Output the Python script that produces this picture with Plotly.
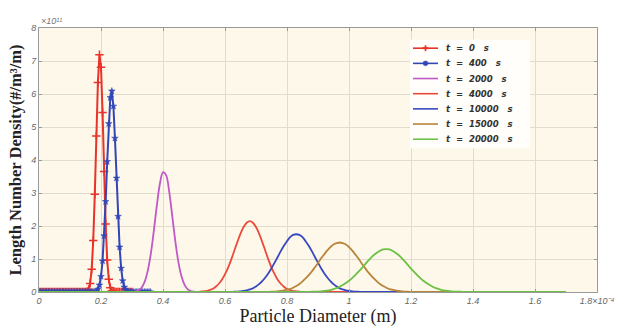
import numpy as np
import plotly.graph_objects as go

# ---- data (x in units of 1e-4 m, y in units of 1e11) ----
labels = ["t\u00a0\u00a0=\u00a0\u00a00\u00a0\u00a0\u00a0s",
          "t\u00a0\u00a0=\u00a0\u00a0400\u00a0\u00a0\u00a0s",
          "t\u00a0\u00a0=\u00a0\u00a02000\u00a0\u00a0\u00a0s",
          "t\u00a0\u00a0=\u00a0\u00a04000\u00a0\u00a0\u00a0s",
          "t\u00a0\u00a0=\u00a0\u00a010000\u00a0\u00a0\u00a0s",
          "t\u00a0\u00a0=\u00a0\u00a015000\u00a0\u00a0\u00a0s",
          "t\u00a0\u00a0=\u00a0\u00a020000\u00a0\u00a0\u00a0s"]
colors = ["#e8322a", "#3346b8", "#c058c8", "#ea4a3a", "#3a48c0", "#b8843a", "#6cc042"]

# t = 0 s : step 0.005, from 0 to 0.30
x_t0 = np.round(np.arange(0, 0.3001, 0.005), 3)
y_t0 = ([0.0] * 30 +
        [0.005, 0.02, 0.08, 0.26, 0.69, 1.56, 2.96, 4.73, 6.35, 7.19,
         6.81, 5.44, 3.65, 2.06, 0.97, 0.39, 0.13, 0.04, 0.01, 0.0] +
        [0.0] * 11)

# t = 400 s : step 0.005, from 0 to 0.36
x_t400 = np.round(np.arange(0, 0.3601, 0.005), 3)
y_t400 = ([0.0] * 37 +
          [0.03, 0.08, 0.21, 0.47, 0.94, 1.70, 2.74, 3.95, 5.10, 5.89, 6.09,
           5.63, 4.66, 3.45, 2.29, 1.36, 0.72, 0.34, 0.15, 0.06, 0.02] +
          [0.0] * 15)

# t = 2000 s : step 0.01, from 0 to 0.60
x_t2000 = np.round(np.arange(0, 0.6001, 0.01), 3)
y_t2000 = ([0.0] * 31 +
           [0.01, 0.05, 0.12, 0.29, 0.61, 1.12, 1.82, 2.61, 3.28, 3.63,
            3.54, 3.04, 2.29, 1.52, 0.89, 0.46, 0.21, 0.08, 0.03, 0.01] +
           [0.0] * 10)

# t = 4000 s : step 0.01, from 0 to 1.04
x_t4000 = np.round(np.arange(0, 1.0401, 0.01), 3)
y_t4000 = ([0.0] * 52 +
           [0.01, 0.02, 0.03, 0.06, 0.09, 0.16, 0.25, 0.37, 0.54, 0.74, 0.98,
            1.25, 1.52, 1.77, 1.97, 2.10, 2.15, 2.10, 1.97, 1.77, 1.52, 1.25,
            0.98, 0.74, 0.54, 0.37, 0.25, 0.16, 0.09, 0.06, 0.03, 0.02, 0.01] +
           [0.0] * 20)

# t = 10000 s : step 0.01, from 0 to 1.26
x_t10000 = np.round(np.arange(0, 1.2601, 0.01), 3)
y_t10000 = ([0.0] * 63 +
            [0.01, 0.01, 0.02, 0.03, 0.05, 0.08, 0.11, 0.17, 0.24, 0.33, 0.44,
             0.57, 0.72, 0.89, 1.06, 1.24, 1.40, 1.54, 1.66, 1.73, 1.75,
             1.73, 1.66, 1.54, 1.40, 1.24, 1.06, 0.89, 0.72, 0.57, 0.44,
             0.33, 0.24, 0.17, 0.11, 0.08, 0.05, 0.03, 0.02, 0.01, 0.01] +
            [0.0] * 23)

# t = 15000 s : step 0.01, from 0 to 1.36
x_t15000 = np.round(np.arange(0, 1.3601, 0.01), 3)
y_t15000 = ([0.0] * 75 +
            [0.01, 0.01, 0.02, 0.03, 0.05, 0.07, 0.09, 0.13, 0.18, 0.24, 0.32,
             0.41, 0.51, 0.62, 0.75, 0.88, 1.02, 1.14, 1.26, 1.36, 1.44, 1.48,
             1.50,
             1.48, 1.44, 1.36, 1.26, 1.14, 1.02, 0.88, 0.75, 0.62, 0.51, 0.41,
             0.32, 0.24, 0.18, 0.13, 0.09, 0.07, 0.05, 0.03, 0.02, 0.01, 0.01] +
            [0.0] * 17)

# t = 20000 s : step 0.01, from 0 to 1.70
x_t20000 = np.round(np.arange(0, 1.7001, 0.01), 3)
y_t20000 = ([0.0] * 88 +
            [0.01, 0.01, 0.01, 0.02, 0.03, 0.04, 0.06, 0.09, 0.12, 0.16, 0.21,
             0.27, 0.34, 0.42, 0.51, 0.61, 0.71, 0.82, 0.93, 1.03, 1.12, 1.19,
             1.25, 1.29, 1.30,
             1.29, 1.25, 1.19, 1.12, 1.03, 0.93, 0.82, 0.71, 0.61, 0.51, 0.42,
             0.34, 0.27, 0.21, 0.16, 0.12, 0.09, 0.06, 0.04, 0.03, 0.02, 0.01,
             0.01, 0.01] +
            [0.0] * 34)

x_ticks = [0, 0.2, 0.4, 0.6, 0.8, 1.0, 1.2, 1.4, 1.6, 1.8]
x_ticktext = ["0", "0.2", "0.4", "0.6", "0.8", "1", "1.2", "1.4", "1.6", "1.8×10⁻⁴"]
y_ticks = [0, 1, 2, 3, 4, 5, 6, 7, 8]

series = [(x_t0, y_t0), (x_t400, y_t400), (x_t2000, y_t2000), (x_t4000, y_t4000),
          (x_t10000, y_t10000), (x_t15000, y_t15000), (x_t20000, y_t20000)]

# ---- layout geometry ----
W, H = 627, 332
ML, MR, MT, MB = 39, 30, 28, 36
PW, PH = W - ML - MR, H - MT - MB


def px_x(p):
    return (p - ML) / PW


def px_y(p):
    return (H - MB - p) / PH


fig = go.Figure()
for i, ((xs, ys), lab, col) in enumerate(zip(series, labels, colors)):
    if i == 0:
        mode = "lines+markers"
        marker = dict(symbol="cross-thin", size=6, color=col, line=dict(width=1.5, color=col))
    elif i == 1:
        mode = "lines+markers"
        marker = dict(symbol="star", size=5, color=col, line=dict(width=0.5, color=col))
    else:
        mode = "lines"
        marker = None
    fig.add_trace(go.Scatter(
        x=xs, y=ys, mode=mode, name=lab, showlegend=False,
        line=dict(color=col, width=2 if i < 2 else 1.8,
                  shape="linear" if i < 2 else "spline"),
        marker=marker))

# ---- manual legend (compact spacing like the original) ----
shapes = [dict(type="rect", xref="paper", yref="paper", layer="above",
               x0=px_x(410), x1=px_x(530), y0=px_y(150), y1=px_y(40),
               fillcolor="#fffefa", line=dict(width=0))]
annotations = []
for i, (lab, col) in enumerate(zip(labels, colors)):
    yc = 48.5 + 15.4 * i
    shapes.append(dict(type="line", xref="paper", yref="paper", layer="above",
                       x0=px_x(413), x1=px_x(438), y0=px_y(yc), y1=px_y(yc),
                       line=dict(color=col, width=1.6)))
    if i == 0:
        shapes.append(dict(type="line", xref="paper", yref="paper", layer="above",
                           x0=px_x(422.5), x1=px_x(428.5), y0=px_y(yc), y1=px_y(yc),
                           line=dict(color=col, width=2)))
        shapes.append(dict(type="line", xref="paper", yref="paper", layer="above",
                           x0=px_x(425.5), x1=px_x(425.5), y0=px_y(yc + 3), y1=px_y(yc - 3),
                           line=dict(color=col, width=1.6)))
    elif i == 1:
        shapes.append(dict(type="circle", xref="paper", yref="paper", layer="above",
                           x0=px_x(423), x1=px_x(428), y0=px_y(yc + 2.5), y1=px_y(yc - 2.5),
                           fillcolor=col, line=dict(color=col, width=0.5)))
    annotations.append(dict(text=lab, xref="paper", yref="paper",
                            x=px_x(444), y=px_y(yc), xanchor="left", yanchor="middle",
                            showarrow=False,
                            font=dict(family="DejaVu Sans", size=8.5, color="#333333",
                                      style="italic", weight="bold")))

annotations.append(dict(text="×10¹¹", xref="paper", yref="paper", x=0.0, y=1.0,
                        xanchor="left", yanchor="bottom", showarrow=False,
                        font=dict(family="Liberation Sans, Arial", size=9, color="#777777",
                                  style="italic")))

tickfont = dict(family="Liberation Sans, Arial", size=9, color="#666666", style="italic")
fig.update_layout(
    width=W, height=H,
    margin=dict(l=ML, r=MR, t=MT, b=MB),
    paper_bgcolor="#ffffff",
    plot_bgcolor="#fdf8ea",
    showlegend=False,
    xaxis=dict(range=[0, 1.8], tickvals=x_ticks, ticktext=x_ticktext,
               tickfont=tickfont, showgrid=True, gridcolor="#e2dccd", gridwidth=1,
               zeroline=False, showline=True, linecolor="#9a9a9a", linewidth=1,
               mirror="ticks", ticks="inside", ticklen=3, tickcolor="#9a9a9a",
               title=dict(text="Particle Diameter (m)", standoff=2,
                          font=dict(family="Liberation Serif", size=18,
                                    color="#222222"))),
    yaxis=dict(range=[0, 8], tickvals=y_ticks, tickfont=tickfont,
               showgrid=True, gridcolor="#e2dccd", gridwidth=1,
               zeroline=False, showline=True, linecolor="#9a9a9a", linewidth=1,
               mirror="ticks", ticks="inside", ticklen=3, tickcolor="#9a9a9a",
               title=dict(text="Length Number Density(#/m³/m)", standoff=4,
                          font=dict(family="Liberation Serif", size=16.5,
                                    color="#222222", weight="bold"))),
    shapes=shapes,
    annotations=annotations,
)

fig.write_html("out.html")
